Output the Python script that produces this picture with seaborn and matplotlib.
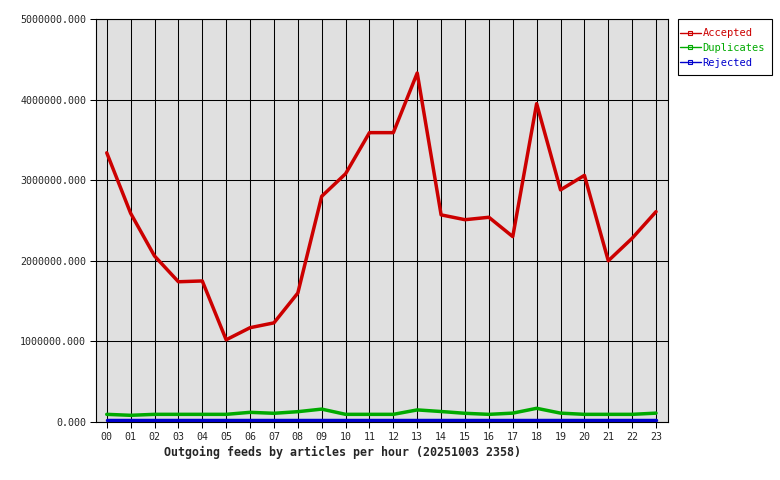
import pandas as pd
import seaborn as sns
import matplotlib.pyplot as plt
from matplotlib.lines import Line2D
from matplotlib.patches import Rectangle
from matplotlib.ticker import FuncFormatter

hours = ["00", "01", "02", "03", "04", "05", "06", "07", "08", "09", "10", "11",
         "12", "13", "14", "15", "16", "17", "18", "19", "20", "21", "22", "23"]

accepted = [3340000, 2590000, 2060000, 1740000, 1750000, 1020000, 1170000, 1230000,
            1600000, 2800000, 3080000, 3590000, 3590000, 4330000, 2570000, 2510000,
            2540000, 2300000, 3950000, 2880000, 3060000, 2000000, 2280000, 2610000]
duplicates = [95000, 83000, 95000, 95000, 95000, 95000, 120000, 108000,
              128000, 160000, 95000, 95000, 95000, 150000, 130000, 108000,
              95000, 110000, 170000, 110000, 95000, 95000, 95000, 110000]
rejected = [20000] * 24

series = ["Accepted", "Duplicates", "Rejected"]
colors = ["#cc0000", "#00aa00", "#0000cc"]

df = pd.DataFrame({"hour": list(range(24)) * 3,
                   "value": accepted + duplicates + rejected,
                   "series": [s for s in series for _ in range(24)]})

sns.set_style("white")
plt.rcParams["font.family"] = ["DejaVu Sans Mono"]

W, H = 780, 480
fig = plt.figure(figsize=(7.8, 4.8), dpi=100)
ax = fig.add_axes([96 / W, 58 / H, 572 / W, 403 / H])
ax.set_facecolor("#e0e0e0")

sns.lineplot(data=df, x="hour", y="value", hue="series", hue_order=series,
             palette=colors, linewidth=2.5, legend=False, ax=ax, zorder=3)

ax.set_xlim(-0.45, 23.5)
ax.set_ylim(0, 5000000)
ax.set_xticks(range(24))
ax.set_xticklabels(hours)
ax.set_yticks(range(0, 5000001, 1000000))
ax.yaxis.set_major_formatter(FuncFormatter(lambda v, p: f"{v:.3f}"))
ax.grid(True, color="black", linewidth=0.75)
ax.set_axisbelow(True)
ax.tick_params(axis="both", direction="out", length=4, width=0.75, color="black",
               labelsize=7.2, pad=3, left=True, bottom=True)
for sp in ax.spines.values():
    sp.set_color("black")
    sp.set_linewidth(0.8)
ax.set_xlabel("")
ax.set_ylabel("")

fig.text(343 / W, 1 - 452 / H, "Outgoing feeds by articles per hour (20251003 2358)",
         ha="center", va="center", fontsize=8.4, fontweight="bold")

# legend box drawn by hand so the padding matches
fig.patches.append(Rectangle((678 / W, 1 - 75 / H), 94 / W, 56 / H,
                             transform=fig.transFigure, facecolor="white",
                             edgecolor="black", linewidth=0.8, zorder=1))
handles = [Line2D([0], [0], color=c, linewidth=1, marker="s", markersize=3,
                  markerfacecolor="none", markeredgecolor=c, markeredgewidth=0.8)
           for c in colors]
leg = fig.legend(handles, series, loc="center left",
                 bbox_to_anchor=(680 / W, 1 - 48 / H), fontsize=7.5,
                 frameon=False, handlelength=2.0, handletextpad=0.15,
                 borderpad=0, borderaxespad=0, labelspacing=0.45, numpoints=1)
leg.set_zorder(2)
for t, c in zip(leg.get_texts(), colors):
    t.set_color(c)

fig.savefig("out.png", dpi=100, facecolor="white")
